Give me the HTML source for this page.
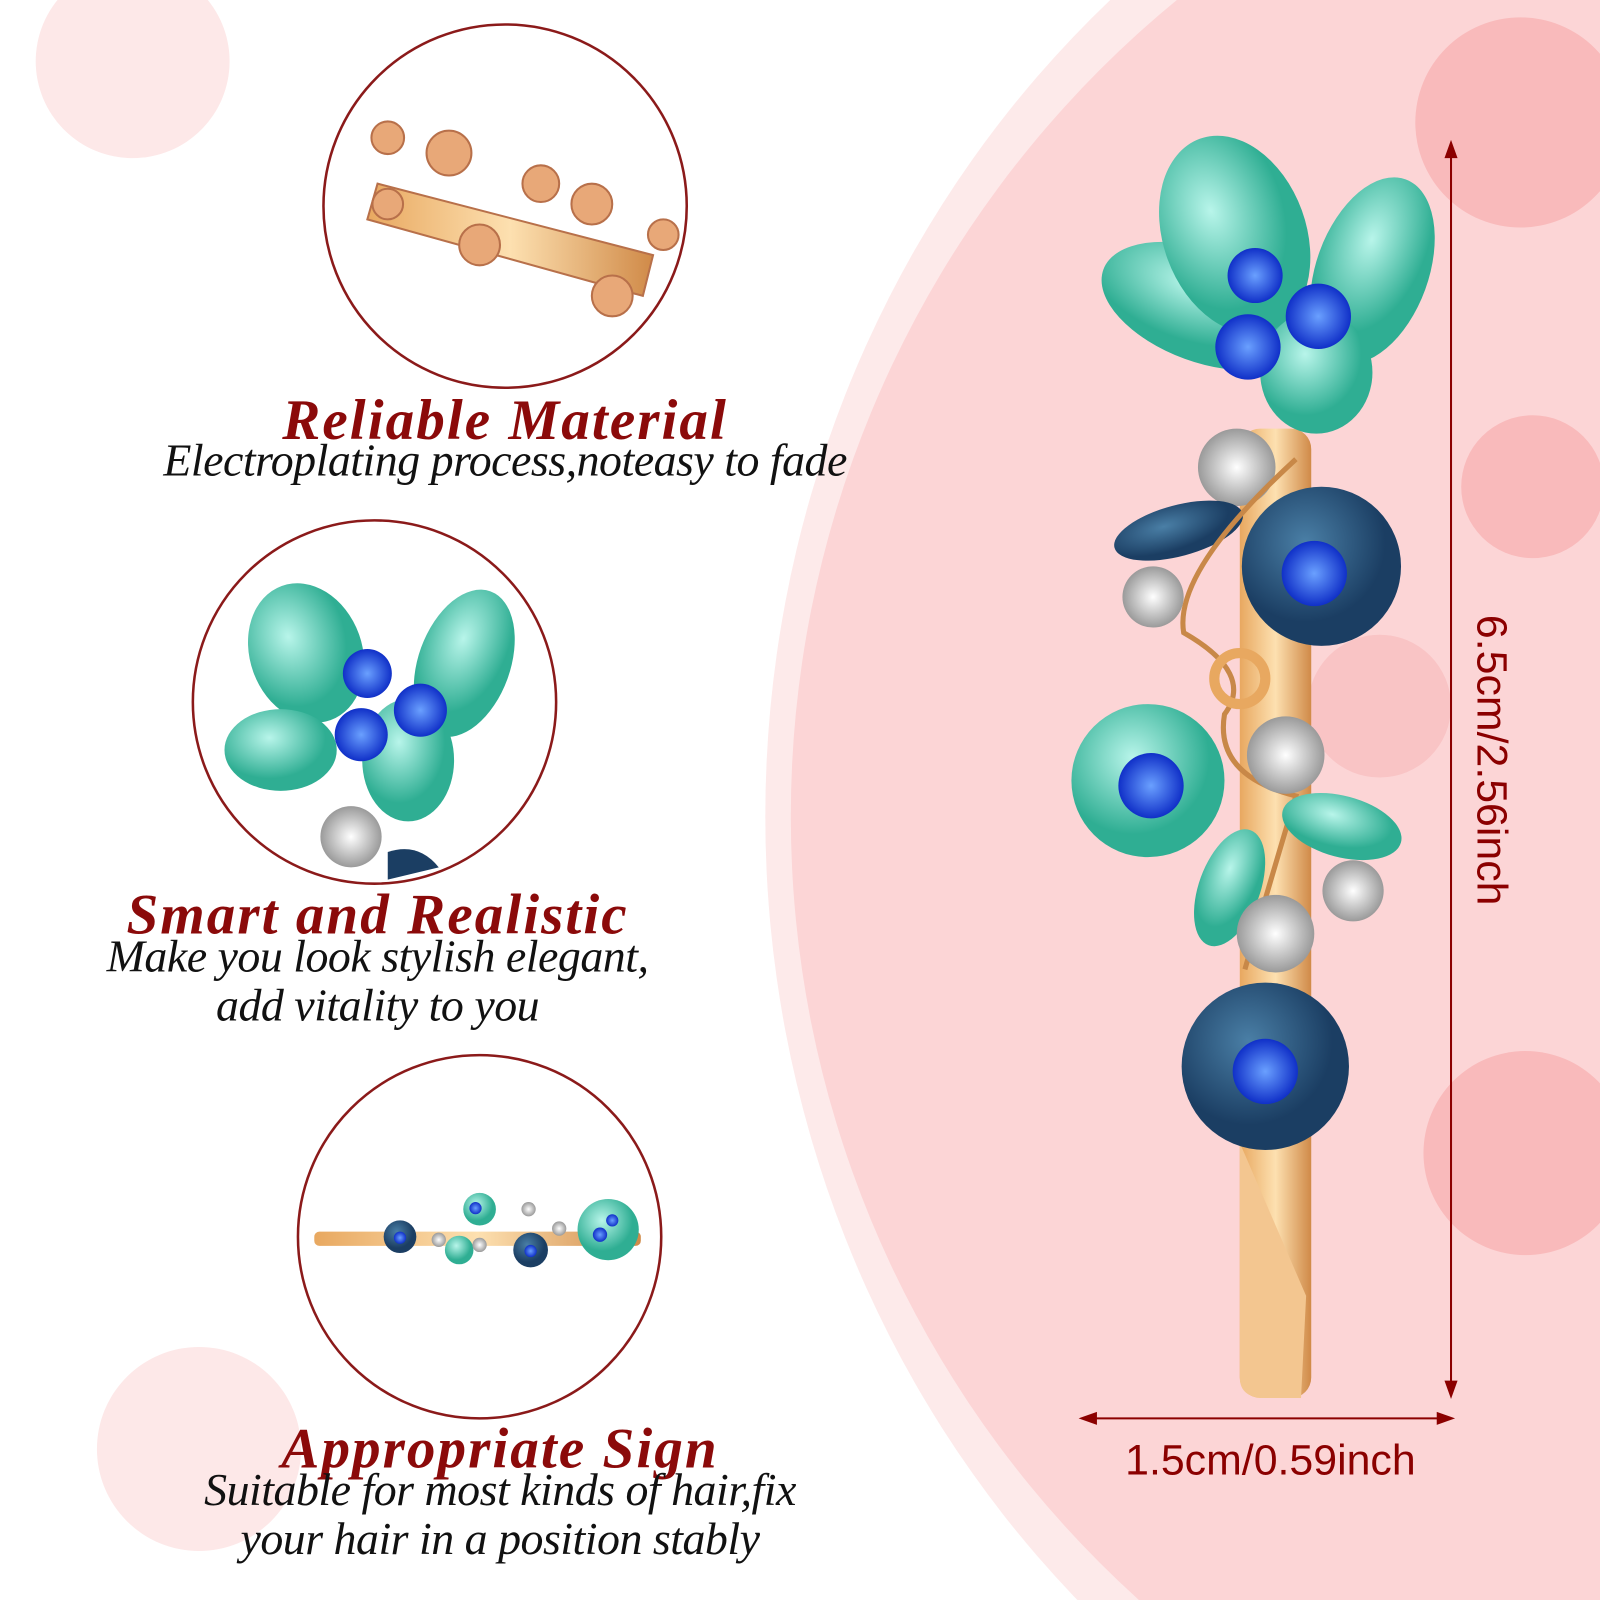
<!DOCTYPE html>
<html><head><meta charset="utf-8"><style>
html,body{margin:0;padding:0;background:#fff;width:1600px;height:1600px;overflow:hidden;position:relative}
svg{display:block;position:absolute;left:0;top:0;overflow:hidden}
.h{fill:#8b0a0a;font-weight:bold;font-style:italic;font-size:56px;letter-spacing:2px;font-family:"Liberation Serif",serif}
.s{fill:#111;font-style:italic;font-size:45px;letter-spacing:-0.5px;font-family:"Liberation Serif",serif}
</style></head><body>
<svg width="1600" height="1600" viewBox="0 0 1568 1568">
<defs>
<clipPath id="cp"><rect width="1568" height="1568"/></clipPath>
<radialGradient id="tl" cx="40%" cy="35%"><stop offset="0" stop-color="#b8f5ea"/><stop offset="1" stop-color="#2fae93"/></radialGradient>
<radialGradient id="db" cx="40%" cy="35%"><stop offset="0" stop-color="#4a7fa6"/><stop offset="1" stop-color="#1b3e63"/></radialGradient>
<radialGradient id="bl"><stop offset="0" stop-color="#6aa0ff"/><stop offset="1" stop-color="#1030c8"/></radialGradient>
<radialGradient id="wh"><stop offset="0" stop-color="#fff"/><stop offset="1" stop-color="#9a9a9a"/></radialGradient>
<linearGradient id="gd" x1="0" x2="1"><stop offset="0" stop-color="#e8a860"/><stop offset="0.5" stop-color="#fde0b0"/><stop offset="1" stop-color="#d08a48"/></linearGradient>
</defs>
<g clip-path="url(#cp)">
<rect width="1568" height="1568" fill="#fff"/>
<circle cx="130" cy="60" r="95" fill="#fde8e8"/>
<circle cx="195" cy="1420" r="100" fill="#fde8e8"/>
<ellipse cx="1780" cy="800" rx="1030" ry="1080" fill="#fdeaea"/>
<circle cx="1810" cy="800" r="1035" fill="#fcd5d6"/>
<circle cx="1490" cy="120" r="103" fill="#f9babb"/>
<circle cx="1502" cy="477" r="70" fill="#f9babb"/>
<circle cx="1352" cy="692" r="70" fill="#f9c4c5"/>
<circle cx="1495" cy="1130" r="100" fill="#f9babb"/>
<circle cx="495" cy="202" r="178" fill="#fff" stroke="#8b1a1a" stroke-width="2.5"/>
<circle cx="367" cy="688" r="178" fill="#fff" stroke="#8b1a1a" stroke-width="2.5"/>
<circle cx="470" cy="1212" r="178" fill="#fff" stroke="#8b1a1a" stroke-width="2.5"/>
<g fill="#e8a878" stroke="#b8704a" stroke-width="2">
<path d="M370 180 L640 250 L630 290 L360 215 Z" fill="url(#gd)"/>
<circle cx="380" cy="135" r="16"/><circle cx="440" cy="150" r="22"/><circle cx="530" cy="180" r="18"/>
<circle cx="580" cy="200" r="20"/><circle cx="470" cy="240" r="20"/><circle cx="600" cy="290" r="20"/><circle cx="650" cy="230" r="15"/>
<circle cx="380" cy="200" r="15"/>
</g>
<g>
<ellipse cx="300" cy="640" rx="55" ry="70" fill="url(#tl)" transform="rotate(-20 300 640)"/>
<ellipse cx="455" cy="650" rx="45" ry="75" fill="url(#tl)" transform="rotate(20 455 650)"/>
<ellipse cx="275" cy="735" rx="55" ry="40" fill="url(#tl)"/>
<ellipse cx="400" cy="745" rx="45" ry="60" fill="url(#tl)"/>
<circle cx="360" cy="660" r="24" fill="url(#bl)"/><circle cx="412" cy="696" r="26" fill="url(#bl)"/><circle cx="354" cy="720" r="26" fill="url(#bl)"/>
<circle cx="344" cy="820" r="30" fill="url(#wh)"/>
<path d="M380 835 Q410 825 430 850 L380 862 Z" fill="#1b3e63"/>
</g>
<g>
<rect x="308" y="1207" width="320" height="14" rx="5" fill="url(#gd)"/>
<circle cx="392" cy="1212" r="16" fill="url(#db)"/><circle cx="470" cy="1185" r="16" fill="url(#tl)"/>
<circle cx="520" cy="1225" r="17" fill="url(#db)"/><circle cx="596" cy="1205" r="30" fill="url(#tl)"/>
<circle cx="450" cy="1225" r="14" fill="url(#tl)"/>
<circle cx="392" cy="1213" r="6" fill="url(#bl)"/><circle cx="466" cy="1184" r="6" fill="url(#bl)"/><circle cx="520" cy="1226" r="6" fill="url(#bl)"/><circle cx="588" cy="1210" r="7" fill="url(#bl)"/><circle cx="600" cy="1196" r="6" fill="url(#bl)"/>
<circle cx="430" cy="1215" r="7" fill="url(#wh)"/><circle cx="470" cy="1220" r="7" fill="url(#wh)"/><circle cx="548" cy="1204" r="7" fill="url(#wh)"/><circle cx="518" cy="1185" r="7" fill="url(#wh)"/>
</g>
<rect x="1215" y="420" width="70" height="950" rx="20" fill="url(#gd)"/>
<path d="M1215 1120 L1215 1350 Q1215 1370 1240 1370 L1275 1370 L1280 1270 Z" fill="#f3c690"/>
<ellipse cx="1180" cy="300" rx="105" ry="55" fill="url(#tl)" transform="rotate(20 1180 300)"/>
<ellipse cx="1210" cy="230" rx="70" ry="100" fill="url(#tl)" transform="rotate(-20 1210 230)"/>
<ellipse cx="1345" cy="265" rx="55" ry="95" fill="url(#tl)" transform="rotate(20 1345 265)"/>
<ellipse cx="1290" cy="365" rx="55" ry="60" fill="url(#tl)"/>
<circle cx="1230" cy="270" r="27" fill="url(#bl)"/><circle cx="1292" cy="310" r="32" fill="url(#bl)"/><circle cx="1223" cy="340" r="32" fill="url(#bl)"/>
<circle cx="1212" cy="458" r="38" fill="url(#wh)"/>
<ellipse cx="1155" cy="520" rx="65" ry="25" fill="url(#db)" transform="rotate(-15 1155 520)"/>
<circle cx="1295" cy="555" r="78" fill="url(#db)"/>
<circle cx="1288" cy="562" r="32" fill="url(#bl)"/>
<circle cx="1130" cy="585" r="30" fill="url(#wh)"/>
<path d="M1270 450 Q1150 560 1160 620 Q1230 660 1200 700 Q1190 760 1270 780 Q1240 880 1220 950" fill="none" stroke="#c88848" stroke-width="5"/>
<circle cx="1215" cy="665" r="25" fill="none" stroke="#e8a860" stroke-width="10"/>
<circle cx="1260" cy="740" r="38" fill="url(#wh)"/>
<circle cx="1125" cy="765" r="75" fill="url(#tl)"/>
<circle cx="1128" cy="770" r="32" fill="url(#bl)"/>
<ellipse cx="1315" cy="810" rx="60" ry="30" fill="url(#tl)" transform="rotate(15 1315 810)"/>
<ellipse cx="1205" cy="870" rx="30" ry="60" fill="url(#tl)" transform="rotate(20 1205 870)"/>
<circle cx="1250" cy="915" r="38" fill="url(#wh)"/>
<circle cx="1326" cy="873" r="30" fill="url(#wh)"/>
<circle cx="1240" cy="1045" r="82" fill="url(#db)"/>
<circle cx="1240" cy="1050" r="32" fill="url(#bl)"/>
<g stroke="#8b0000" stroke-width="2" fill="#8b0000">
<line x1="1422" y1="150" x2="1422" y2="1360"/>
<path d="M1422 140 L1417 154 L1427 154 Z"/><path d="M1422 1368 L1417 1354 L1427 1354 Z"/>
<line x1="1068" y1="1390" x2="1415" y2="1390"/>
<path d="M1060 1390 L1074 1385 L1074 1395 Z"/><path d="M1423 1390 L1409 1385 L1409 1395 Z"/>
</g>
<text x="1245" y="1445" font-family="Liberation Sans,sans-serif" font-size="42" fill="#8b0000" text-anchor="middle">1.5cm/0.59inch</text>
<text transform="translate(1448 745) rotate(90)" font-family="Liberation Sans,sans-serif" font-size="42" fill="#8b0000" text-anchor="middle">6.5cm/2.56inch</text>
<text class="h" x="495" y="430" text-anchor="middle">Reliable Material</text>
<text class="s" x="495" y="466" text-anchor="middle">Electroplating process,noteasy to fade</text>
<text class="h" x="370" y="915" text-anchor="middle">Smart and Realistic</text>
<text class="s" x="370" y="952" text-anchor="middle">Make you look stylish elegant,</text>
<text class="s" x="370" y="1000" text-anchor="middle">add vitality to you</text>
<text class="h" x="490" y="1438" text-anchor="middle">Appropriate Sign</text>
<text class="s" x="490" y="1475" text-anchor="middle">Suitable for most kinds of hair,fix</text>
<text class="s" x="490" y="1523" text-anchor="middle">your hair in a position stably</text>
</g>
</svg>
</body></html>
